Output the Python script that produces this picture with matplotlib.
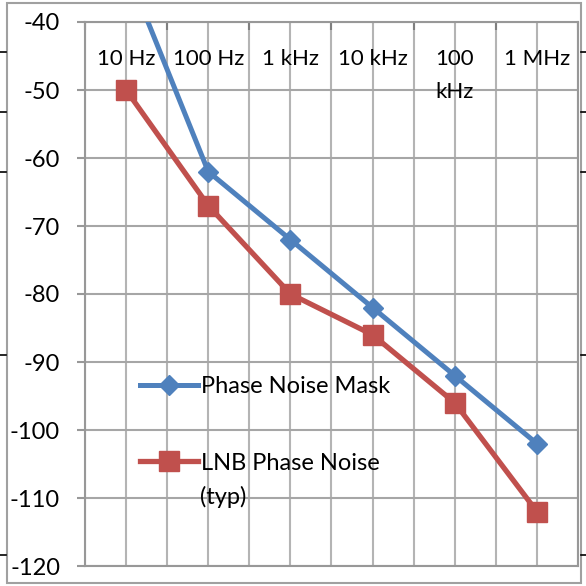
import matplotlib
matplotlib.use("Agg")
import matplotlib.pyplot as plt
from matplotlib.lines import Line2D
from matplotlib.patches import Rectangle

# categories along the top axis
categories = ["10 Hz", "100 Hz", "1 kHz", "10 kHz", "100\nkHz", "1 MHz"]
# series values (dBc/Hz)
mask = [-32, -62, -72, -82, -92, -102]
lnb = [-50, -67, -80, -86, -96, -112]
yticks = [-120, -110, -100, -90, -80, -70, -60, -50, -40]

BLUE = "#4F81BD"
RED = "#C0504D"
GRID = "#B4B4B4"
AXIS = "#989898"
FS = 16

plt.rcParams['font.family'] = ['Lato', 'DejaVu Sans']

W = 586
fig = plt.figure(figsize=(5.86, 5.86), dpi=100)
ax = fig.add_axes([85 / W, 20 / W, 493 / W, 544 / W])

x = list(range(len(categories)))
ax.plot(x, mask, color=BLUE, lw=3.6, marker="D", ms=10.5, label="Phase Noise Mask", zorder=4)
ax.plot(x, lnb, color=RED, lw=3.8, marker="s", ms=14, label="LNB Phase Noise", zorder=3)

ax.set_xlim(-0.5, len(categories) - 0.5)
ax.set_ylim(-120, -40)
ax.set_yticks(yticks)
ax.set_yticklabels([str(v) for v in yticks])

# boundaries as major ticks, centres as minor (grid only)
ax.set_xticks([i - 0.5 for i in range(len(categories) + 1)])
ax.set_xticks(x, minor=True)
ax.xaxis.tick_top()
ax.tick_params(axis="x", which="major", direction="in", length=6, width=1.5,
               color="#7f7f7f", labeltop=False, labelbottom=False)
ax.tick_params(axis="x", which="minor", length=0, labeltop=False, labelbottom=False)
ax.tick_params(axis="y", direction="out", length=6, width=1.5, color=AXIS,
               pad=12, labelsize=17)

ax.grid(True, axis="y", color="#A6A6A6", lw=1.5, zorder=0)
ax.grid(True, axis="x", which="both", color=GRID, lw=1.5, zorder=0)
ax.set_axisbelow(True)
for sp in ax.spines.values():
    sp.set_color(AXIS)
    sp.set_linewidth(1.5)

for i, lab in enumerate(categories):
    ax.text(i, -44.0, lab, ha="center", va="top", fontsize=FS, linespacing=1.8)

leg = ax.legend(loc="upper left", bbox_to_anchor=(0.1116, 0.349), frameon=False,
                fontsize=17, handlelength=2.45, handletextpad=0.13,
                borderpad=0, borderaxespad=0, labelspacing=2.35)
# second line of the red legend label, under its first line
ax.text((200 - 85) / 493, (566 - 497) / 544, "(typ)", transform=ax.transAxes,
        ha="left", va="center", fontsize=17)

# outer chart border
fig.add_artist(Rectangle((7 / W, 3 / W), 574 / W, 580 / W, transform=fig.transFigure,
                         fill=False, ec="#A0A0A0", lw=1.5))
# small marks at the page edges
for yy in [52, 112, 172, 355, 555]:
    fig.add_artist(Line2D([0, 6 / W], [1 - yy / W] * 2, transform=fig.transFigure,
                          color="black", lw=1.2))
    fig.add_artist(Line2D([581 / W, 1], [1 - yy / W] * 2, transform=fig.transFigure,
                          color="black", lw=1.2))

fig.savefig("out.png", dpi=100)
